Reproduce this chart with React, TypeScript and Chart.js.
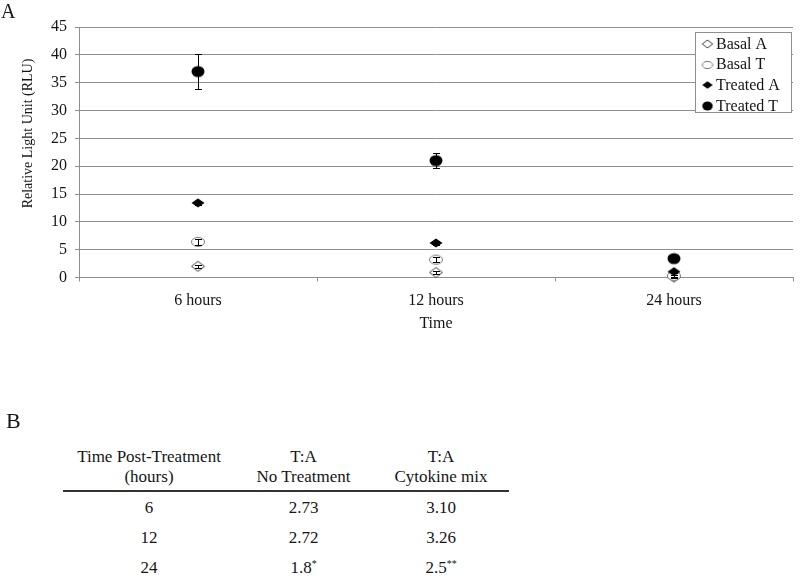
import React, { useEffect, useRef } from "react";
import { Chart, registerables } from "chart.js";

Chart.register(...registerables);

// ---------- Data ----------
const timeLabels = ["6 hours", "12 hours", "24 hours"];
const seriesNames = ["Basal A", "Basal T", "Treated A", "Treated T"];
const basalA = [2.0, 0.9, 0.05];
const basalT = [6.4, 3.2, 0.3];
const treatedA = [13.4, 6.2, 1.05];
const treatedT = [37.0, 21.0, 3.4];
const basalAErr = [0.3, 0.25, 0.1];
const basalTErr = [0.55, 0.4, 0.2];
const treatedAErr = [0.4, 0.3, 0.3];
const treatedTErr = [3.2, 1.4, 0.4];
const yMin = 0;
const yMax = 45;
const yStep = 5;
const yTitle = "Relative Light Unit (RLU)";
const xTitle = "Time";

const tableHeadLine1 = ["Time Post-Treatment", "T:A", "T:A"];
const tableHeadLine2 = ["(hours)", "No Treatment", "Cytokine mix"];
const tableTimes = ["6", "12", "24"];
const ratioNoTreatment = ["2.73", "2.72", "1.8"];
const ratioCytokine = ["3.10", "3.26", "2.5"];
const noTreatmentMarks = ["", "", "*"];
const cytokineMarks = ["", "", "**"];

// ---------- Styles ----------
const FONT = '"Liberation Serif", "Times New Roman", serif';
const TEXT = "#151515";
const GRID = "#8f8f8f";

function makeMarker(shape: string, filled: boolean, rx: number, ry: number, stroke: string, scale = 1) {
  const c = document.createElement("canvas");
  const w = Math.ceil(rx * 2 * scale) + 4;
  const h = Math.ceil(ry * 2 * scale) + 4;
  c.width = w % 2 ? w + 1 : w;
  c.height = h % 2 ? h + 1 : h;
  const g = c.getContext("2d")!;
  const cx = c.width / 2;
  const cy = c.height / 2;
  const a = rx * scale;
  const b = ry * scale;
  g.beginPath();
  if (shape === "diamond") {
    g.moveTo(cx - a, cy);
    g.lineTo(cx, cy - b);
    g.lineTo(cx + a, cy);
    g.lineTo(cx, cy + b);
    g.closePath();
  } else {
    g.ellipse(cx, cy, a, b, 0, 0, Math.PI * 2);
  }
  if (filled) {
    g.fillStyle = "#000";
    g.fill();
  } else {
    g.fillStyle = "#fff";
    g.fill();
    g.strokeStyle = stroke;
    g.lineWidth = 1;
    g.stroke();
  }
  return c;
}

const markerSpecs = [
  { shape: "diamond", filled: false, rx: 6.5, ry: 5, stroke: "#444" },
  { shape: "ellipse", filled: false, rx: 6.5, ry: 4.5, stroke: "#777" },
  { shape: "diamond", filled: true, rx: 6.5, ry: 4.6, stroke: "#000" },
  { shape: "ellipse", filled: true, rx: 6.5, ry: 5.6, stroke: "#000" },
];

export default function App() {
  const ref = useRef<HTMLCanvasElement>(null);

  useEffect(() => {
    const canvas = ref.current;
    if (!canvas) return;
    const imgs = markerSpecs.map((m) => makeMarker(m.shape, m.filled, m.rx, m.ry, m.stroke));
    const legendImgs = markerSpecs.map((m) => makeMarker(m.shape, m.filled, m.rx, m.ry, m.stroke, 0.8));
    const values = [basalA, basalT, treatedA, treatedT];
    const errors = [basalAErr, basalTErr, treatedAErr, treatedTErr];

    const errorBars = {
      id: "errorBars",
      afterDatasetsDraw(chart: any) {
        const { ctx } = chart;
        const ys = chart.scales.y;
        ctx.save();
        ctx.strokeStyle = "#000";
        ctx.lineWidth = 1;
        chart.data.datasets.forEach((ds: any, i: number) => {
          const meta = chart.getDatasetMeta(i);
          meta.data.forEach((pt: any, j: number) => {
            const v = ds.data[j];
            const e = ds.errors[j];
            const x = Math.round(pt.x) + 0.5;
            const y1 = Math.round(ys.getPixelForValue(v + e)) + 0.5;
            const y2 = Math.round(ys.getPixelForValue(v - e)) + 0.5;
            ctx.beginPath();
            ctx.moveTo(x, y1);
            ctx.lineTo(x, y2);
            ctx.moveTo(x - 3.5, y1);
            ctx.lineTo(x + 3.5, y1);
            ctx.moveTo(x - 3.5, y2);
            ctx.lineTo(x + 3.5, y2);
            ctx.stroke();
          });
        });
        ctx.restore();
      },
    };

    const extras = {
      id: "extras",
      afterDraw(chart: any) {
        const { ctx } = chart;
        ctx.save();
        // y-axis title
        ctx.translate(28, 133.5);
        ctx.rotate(-Math.PI / 2);
        ctx.font = `14px ${FONT}`;
        ctx.fillStyle = TEXT;
        ctx.textAlign = "center";
        ctx.textBaseline = "middle";
        ctx.fillText(yTitle, 0, 0);
        ctx.restore();

        // legend box
        ctx.save();
        ctx.fillStyle = "#fff";
        ctx.fillRect(695, 32, 97, 81);
        ctx.strokeStyle = GRID;
        ctx.lineWidth = 1;
        ctx.strokeRect(695.5, 32.5, 96, 80);
        ctx.font = `16px ${FONT}`;
        ctx.fillStyle = TEXT;
        ctx.textAlign = "left";
        ctx.textBaseline = "middle";
        seriesNames.forEach((name, i) => {
          const y = 44 + i * 20.7;
          const img = legendImgs[i];
          ctx.drawImage(img, 707.5 - img.width / 2, Math.round(y) - img.height / 2);
          ctx.fillText(name, 716, y + 0.5);
        });
        ctx.restore();
      },
    };

    const chart = new Chart(canvas, {
      type: "line",
      data: {
        labels: timeLabels,
        datasets: seriesNames.map((name, i) => ({
          label: name,
          data: values[i],
          errors: errors[i],
          showLine: false,
          pointStyle: imgs[i],
          pointRadius: 6,
          pointHoverRadius: 6,
          order: 4 - i,
          clip: false,
        })) as any,
      },
      options: {
        responsive: false,
        maintainAspectRatio: false,
        animation: false,
        events: [],
        layout: { padding: { left: 0, right: 1, top: 27, bottom: 0 } },
        plugins: { legend: { display: false }, tooltip: { enabled: false } },
        scales: {
          x: {
            type: "category",
            offset: true,
            grid: { offset: true, drawOnChartArea: false, drawTicks: true, tickLength: 4, color: GRID },
            border: { color: GRID },
            ticks: { font: { family: FONT, size: 16 }, color: TEXT, padding: 10 },
            title: {
              display: true,
              text: xTitle,
              font: { family: FONT, size: 16 },
              color: TEXT,
              padding: { top: 0, bottom: 12 },
            },
            afterFit(scale: any) {
              scale.height = 67.5;
            },
          },
          y: {
            min: yMin,
            max: yMax,
            ticks: { stepSize: yStep, font: { family: FONT, size: 16 }, color: TEXT, padding: 8 },
            grid: { color: GRID, tickLength: 4 },
            border: { color: GRID },
            afterFit(scale: any) {
              scale.width = 79;
            },
          },
        },
      } as any,
      plugins: [errorBars, extras],
    });
    return () => chart.destroy();
  }, []);

  const cols = [149, 303.5, 441];
  const rowY = [508, 538, 567.5];
  const cell = (text: React.ReactNode, cx: number, cy: number, key: string) => (
    <div
      key={key}
      style={{
        position: "absolute",
        left: cx - 110,
        top: cy - 10,
        width: 220,
        textAlign: "center",
        fontSize: 17,
        lineHeight: "20px",
        whiteSpace: "nowrap",
      }}
    >
      {text}
    </div>
  );
  const withMark = (v: string, m: string) => (
    <span>
      {v}
      {m ? <span style={{ fontSize: 10, position: "relative", top: -6 }}>{m}</span> : null}
    </span>
  );

  return (
    <div
      style={{
        position: "absolute",
        left: 0,
        top: 0,
        width: 800,
        height: 576,
        background: "#fff",
        fontFamily: FONT,
        color: TEXT,
        overflow: "hidden",
      }}
    >
      <canvas
        ref={ref}
        width={800}
        height={345}
        style={{ position: "absolute", left: 0, top: 0, width: 800, height: 345, display: "block" }}
      />
      <div style={{ position: "absolute", left: 1, top: 1, fontSize: 20, lineHeight: "20px" }}>A</div>
      <div style={{ position: "absolute", left: 6, top: 410, fontSize: 22, lineHeight: "22px" }}>B</div>
      {tableHeadLine1.map((t, i) => cell(t, cols[i], 457.3, "h1" + i))}
      {tableHeadLine2.map((t, i) => cell(t, cols[i], 477.3, "h2" + i))}
      <div style={{ position: "absolute", left: 63, top: 490, width: 446, height: 2, background: "#333" }} />
      {tableTimes.map((t, r) => cell(t, cols[0], rowY[r], "t" + r))}
      {ratioNoTreatment.map((v, r) => cell(withMark(v, noTreatmentMarks[r]), cols[1], rowY[r], "n" + r))}
      {ratioCytokine.map((v, r) => cell(withMark(v, cytokineMarks[r]), cols[2], rowY[r], "c" + r))}
    </div>
  );
}
